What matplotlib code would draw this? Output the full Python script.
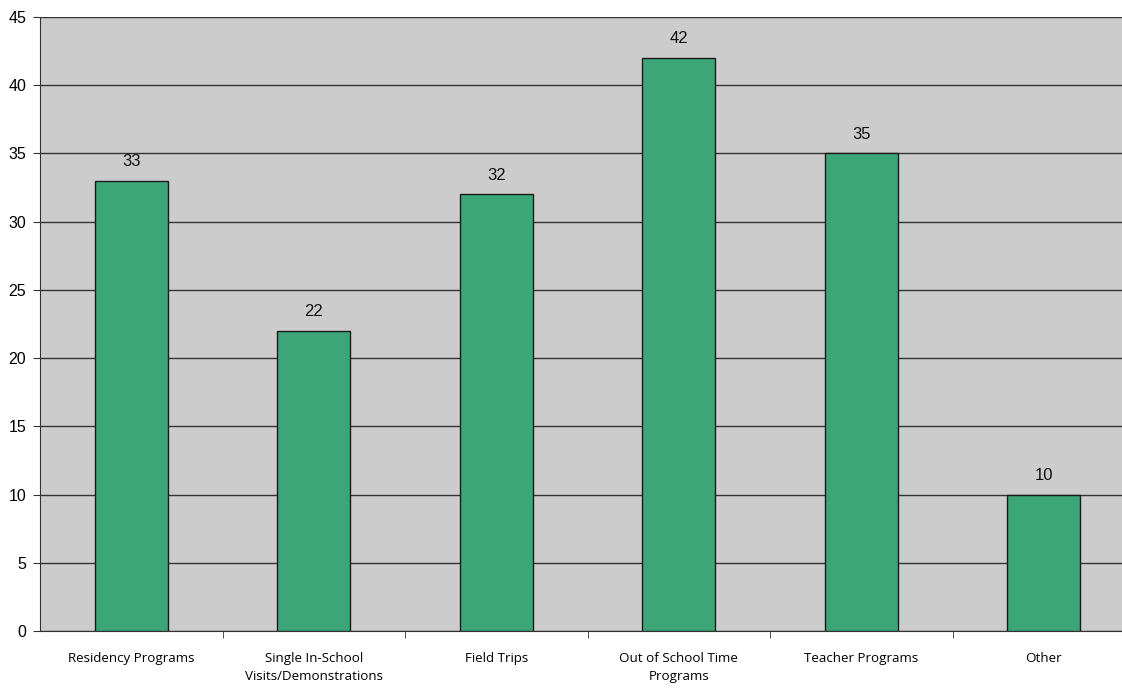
import matplotlib.pyplot as plt
from matplotlib.ticker import MultipleLocator
import numpy as np

categories = ["Residency Programs", "Single In-School\nVisits/Demonstrations", "Field Trips",
              "Out of School Time\nPrograms", "Teacher Programs", "Other"]
counts = [33, 22, 32, 42, 35, 10]

bar_color = "#3CA679"
bg_color = "#CCCCCC"

fig = plt.figure(figsize=(11.22, 6.88), dpi=100)
# plot area runs a little past the right edge of the canvas
ax = fig.add_axes([40 / 1122, 57 / 688, 1095 / 1122, 614 / 688])
ax.set_facecolor(bg_color)

x = np.arange(len(categories))
ax.set_axisbelow(True)
ax.yaxis.grid(True, color="#333333", linewidth=1)
ax.bar(x, counts, width=0.40, color=bar_color, edgecolor="#1a1a1a", linewidth=1, zorder=3)

for xi, v in zip(x, counts):
    ax.text(xi, v + 0.85, str(v), ha="center", va="bottom", fontsize=12,
            family="Liberation Sans", color="#111111")

ax.set_xlim(-0.5, len(categories) - 0.5)
ax.set_ylim(0, 45)
ax.yaxis.set_major_locator(MultipleLocator(5))

# category labels centred, tick marks at the boundaries
ax.set_xticks(x)
ax.set_xticklabels(categories, fontsize=9.6, family="Open Sans", linespacing=1.55)
ax.tick_params(axis="x", length=0, pad=15)
ax.set_xticks(np.arange(0.5, len(categories) - 0.5, 1), minor=True)
ax.tick_params(axis="x", which="minor", length=5, direction="out", color="#333333")

ax.tick_params(axis="y", length=5, direction="out", color="#333333", labelsize=11.5, pad=5)
for lbl in ax.get_yticklabels():
    lbl.set_family("Liberation Sans")

for side in ["top", "right"]:
    ax.spines[side].set_visible(False)
ax.spines["left"].set_color("#333333")
ax.spines["bottom"].set_color("#333333")

fig.savefig("out.png", dpi=100, facecolor="white")
